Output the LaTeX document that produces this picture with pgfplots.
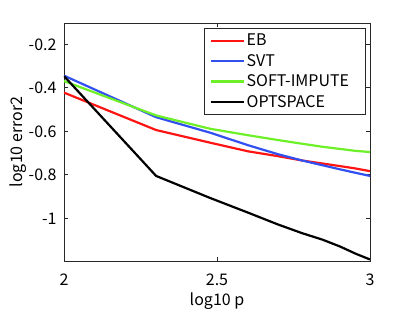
\documentclass[border=0pt]{standalone}
\usepackage{pgfplots}
\pgfplotsset{compat=1.18}
\usepackage{fontspec}
\setmainfont{Noto Sans CJK JP}
\definecolor{ebred}{RGB}{255,20,20}
\definecolor{svtblue}{RGB}{50,80,240}
\definecolor{softgreen}{RGB}{110,240,40}
\definecolor{axgray}{RGB}{40,40,40}
\begin{document}
\begin{tikzpicture}[x=1pt,y=1pt]
\begin{axis}[
  name=ax,
  scale only axis,
  width=306pt, height=238pt,
  xmin=2, xmax=3, ymin=-1.196, ymax=-0.102,
  xtick={2,2.5,3}, ytick={-1,-0.8,-0.6,-0.4,-0.2},
  xticklabels={2,2.5,3},
  yticklabels={-1,-0.8,-0.6,-0.4,-0.2},
  tick align=inside, major tick length=4pt,
  axis line style={axgray, line width=0.7pt},
  tick style={axgray, line width=0.7pt},
  every tick label/.append style={font=\fontsize{16}{18}\selectfont, text=black},
  xticklabel style={yshift=-9pt},
  yticklabel style={xshift=-4pt},
  xlabel={log10 p}, ylabel={log10 error2},
  label style={font=\fontsize{16}{18}\selectfont},
  xlabel style={yshift=-1pt},
  ylabel style={yshift=-5pt},
  legend style={at={(0.987,0.98)}, anchor=north east, draw=axgray, line width=0.7pt,
    font=\fontsize{16}{18}\selectfont, inner xsep=5pt, inner ysep=4pt, row sep=3pt,
    legend cell align=left, nodes={text width=112pt, align=left}},
  legend image code/.code={\draw[#1, line width=2.2pt] (0pt,0pt) -- (33pt,0pt);},
  every axis plot/.append style={line width=2.2pt},
]
\addplot[ebred] coordinates {(2,-0.422) (2.301,-0.594) (2.477,-0.652) (2.602,-0.692) (2.699,-0.714) (2.778,-0.734) (2.845,-0.748) (2.903,-0.760) (2.954,-0.771) (3,-0.783)};
\addlegendentry{EB}
\addplot[svtblue] coordinates {(2,-0.344) (2.301,-0.535) (2.477,-0.606) (2.602,-0.664) (2.699,-0.705) (2.778,-0.734) (2.845,-0.756) (2.903,-0.775) (2.954,-0.791) (3,-0.805)};
\addlegendentry{SVT}
\addplot[softgreen] coordinates {(2,-0.369) (2.301,-0.527) (2.477,-0.588) (2.602,-0.618) (2.699,-0.640) (2.778,-0.657) (2.845,-0.671) (2.903,-0.681) (2.954,-0.690) (3,-0.695)};
\addlegendentry{SOFT-IMPUTE}
\addplot[black] coordinates {(2,-0.346) (2.301,-0.805) (2.477,-0.906) (2.602,-0.974) (2.699,-1.028) (2.778,-1.068) (2.845,-1.098) (2.903,-1.130) (2.954,-1.163) (3,-1.189)};
\addlegendentry{OPTSPACE}
\end{axis}
\path (ax.south west) ++(-64pt,-47pt) coordinate (bl);
\path (ax.north east) ++(39pt,23pt) coordinate (tr);
\path[use as bounding box] (bl) rectangle (tr);
\end{tikzpicture}
\end{document}
